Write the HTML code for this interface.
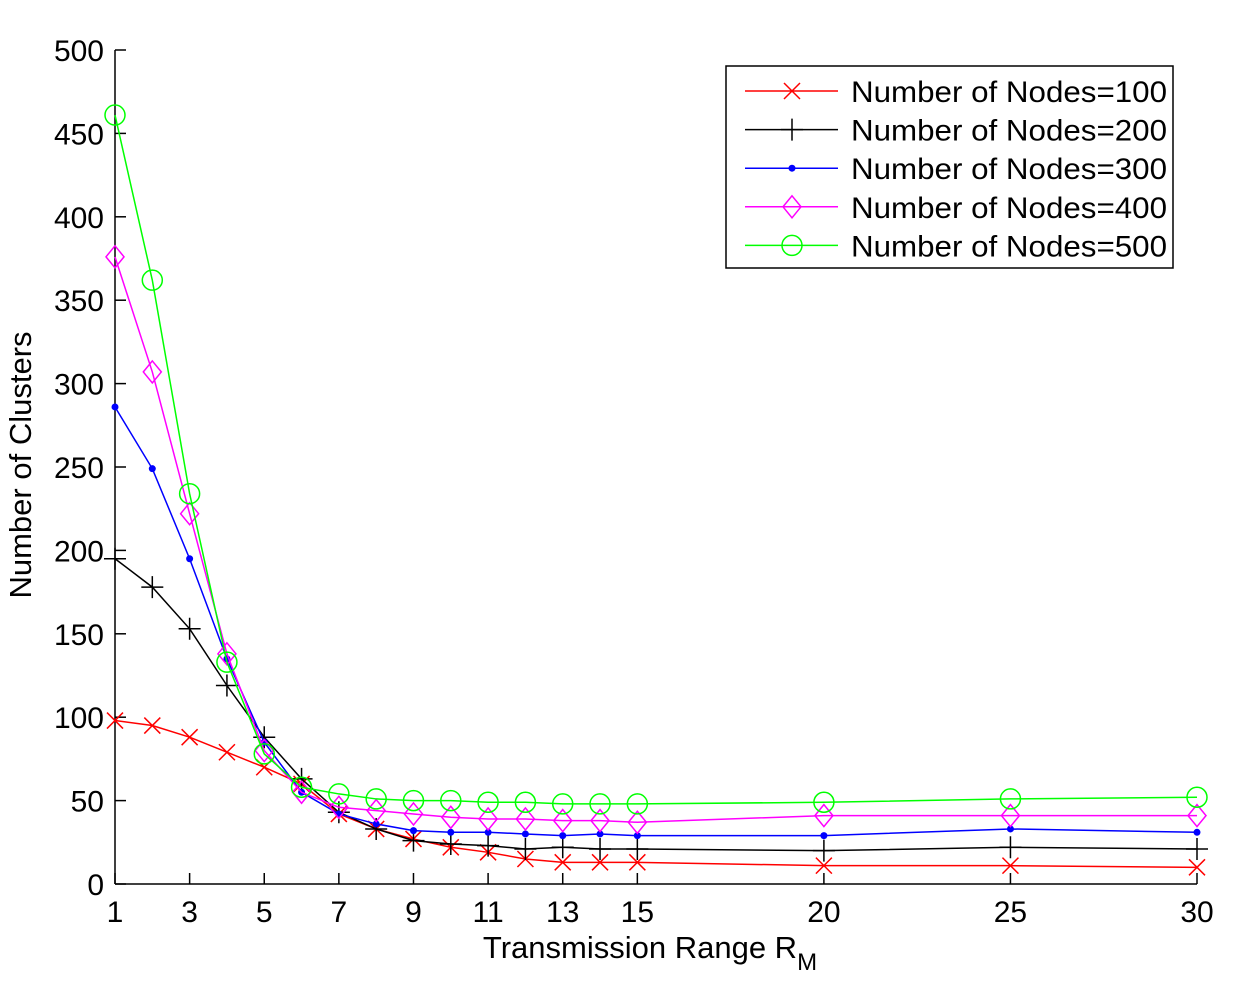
<!DOCTYPE html>
<html><head><meta charset="utf-8"><style>
html,body{margin:0;padding:0;background:#fff;}
svg{display:block;font-family:"Liberation Sans",sans-serif;}
</style></head><body>
<svg id="chart" width="1234" height="1000" viewBox="0 0 1234 1000" xmlns="http://www.w3.org/2000/svg">
<g id="axes"></g>
<g id="series"></g>
<g id="legend"></g>
<text x="650" y="958" font-size="31" text-anchor="middle">Transmission Range R<tspan font-size="24" dy="12">M</tspan></text>
<text transform="translate(31,465) rotate(-90)" font-size="31" text-anchor="middle">Number of Clusters</text>
</svg>
<script>
const xValues=[1,2,3,4,5,6,7,8,9,10,11,12,13,14,15,20,25,30];
const n100=[98,95,88,79,70,60,42,33,27,22,19,15,13,13,13,11,11,10];
const n200=[195,178,153,119,88,63,43,33,26,24,23,21,22,21,21,20,22,21];
const n300=[286,249,195,135,85,55,42,36,32,31,31,30,29,30,29,29,33,31];
const n400=[376,307,222,138,80,55,46,44,42,40,39,39,38,38,37,41,41,41];
const n500=[461,362,234,133,78,58,54,51,50,50,49,49,48,48,48,49,51,52];
const xTicks=[1,3,5,7,9,11,13,15,20,25,30];
const yTicks=[0,50,100,150,200,250,300,350,400,450,500];
const seriesNames=["Number of Nodes=100","Number of Nodes=200","Number of Nodes=300","Number of Nodes=400","Number of Nodes=500"];
const NS="http://www.w3.org/2000/svg";
const X=v=>115+(v-1)*(1082/29);
const Y=v=>884-v*(834/500);
function mk(t,a,p){const e=document.createElementNS(NS,t);for(const k in a)e.setAttribute(k,a[k]);p.appendChild(e);return e;}
const axes=document.getElementById('axes');
let ax=mk('line',{x1:115,y1:884,x2:1197,y2:884,stroke:'#000','stroke-width':1.5},axes);

let ay=mk('line',{x1:115,y1:884,x2:115,y2:50,stroke:'#000','stroke-width':1.5},axes);

xTicks.forEach(v=>{
 mk('line',{x1:X(v),y1:884,x2:X(v),y2:873,stroke:'#000','stroke-width':1.5},axes);
 const t=mk('text',{x:X(v),y:922,'font-size':30,'text-anchor':'middle'},axes);t.textContent=v;
 
});
yTicks.forEach(v=>{
 mk('line',{x1:115,y1:Y(v),x2:126,y2:Y(v),stroke:'#000','stroke-width':1.5},axes);
 const t=mk('text',{x:104,y:Y(v)+11,'font-size':30,'text-anchor':'end'},axes);t.textContent=v;
 
});
function marker(type,cx,cy,color,p){
 if(type==='x'){return mk('path',{d:`M${cx-8} ${cy-8}L${cx+8} ${cy+8}M${cx-8} ${cy+8}L${cx+8} ${cy-8}`,stroke:color,'stroke-width':1.5,fill:'none'},p);}
 if(type==='+'){return mk('path',{d:`M${cx-11} ${cy}L${cx+11} ${cy}M${cx} ${cy-11}L${cx} ${cy+11}`,stroke:color,'stroke-width':1.5,fill:'none'},p);}
 if(type==='.'){return mk('circle',{cx,cy,r:3.5,fill:color},p);}
 if(type==='d'){return mk('path',{d:`M${cx} ${cy-11}L${cx+9} ${cy}L${cx} ${cy+11}L${cx-9} ${cy}Z`,stroke:color,'stroke-width':1.5,fill:'none'},p);}
 return mk('circle',{cx,cy,r:10,stroke:color,'stroke-width':1.5,fill:'none'},p);
}
const colors=['#ff0000','#000000','#0000ff','#ff00ff','#00ff00'];
const marks=['x','+','.','d','o'];
const data=[n100,n200,n300,n400,n500];
const sg=document.getElementById('series');
data.forEach((arr,i)=>{
 const g=mk('g',{},sg);
 
 const l=mk('polyline',{points:arr.map((v,j)=>X(xValues[j])+','+Y(v)).join(' '),fill:'none',stroke:colors[i],'stroke-width':1.5},g);
 
 arr.forEach((v,j)=>{const m=marker(marks[i],X(xValues[j]),Y(v),colors[i],g);
  });
});
const lg=document.getElementById('legend');
const box=mk('rect',{x:726,y:66,width:447,height:202,fill:'#fff',stroke:'#000','stroke-width':1.5},lg);

seriesNames.forEach((s,i)=>{
 const y=91+i*38.6;
 const g=mk('g',{},lg);
 
 mk('line',{x1:745,y1:y,x2:838,y2:y,stroke:colors[i],'stroke-width':1.5},g);
 marker(marks[i],792,y,colors[i],g);
 const t=mk('text',{x:851,y:y+11,'font-size':30,textLength:316,lengthAdjust:'spacingAndGlyphs'},g);t.textContent=s;
});
</script>
</body></html>
